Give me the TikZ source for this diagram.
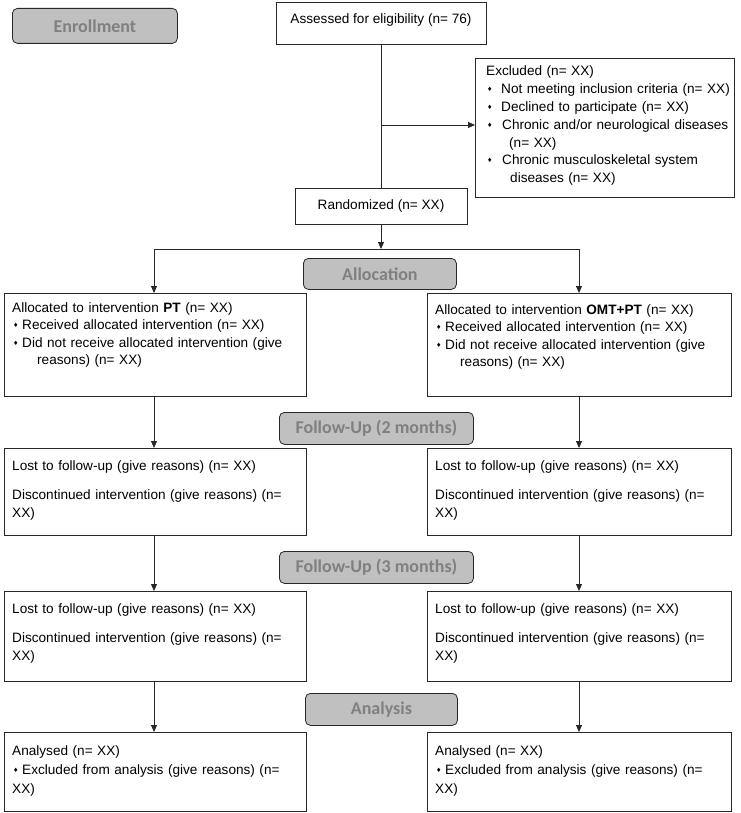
\documentclass[tikz,border=0pt]{standalone}
\usepackage{fontspec}
\setmainfont{Liberation Sans}
\newfontfamily\lblfont{Carlito}
\newfontfamily\symfont{DejaVu Sans}
\usetikzlibrary{arrows.meta}
\definecolor{lblfill}{RGB}{192,192,192}
\definecolor{lbltext}{RGB}{128,128,128}
\definecolor{edge}{RGB}{40,40,40}
\newcommand\bul[1]{\makebox[#1][l]{\hspace{1pt}\raisebox{2pt}{\symfont\fontsize{6}{6}\selectfont ♦}}}
\begin{document}
\begin{tikzpicture}[x=1pt,y=-1pt,
 box/.style={draw=edge, line width=0.8pt, inner sep=0pt, anchor=north west},
 cbox/.style={draw=edge, line width=0.8pt, inner sep=0pt, font=\fontsize{13.6}{16}\selectfont},
 lbl/.style={draw=edge, line width=0.8pt, fill=lblfill, rounded corners=5pt, inner sep=0pt, anchor=north west, font=\lblfont\bfseries\fontsize{18}{18}\selectfont, text=lbltext},
 txt/.style={inner sep=0pt, anchor=base west, align=left, text width=330pt, font=\fontsize{13.6}{17.5}\selectfont},
 arr/.style={draw=edge, line width=0.8pt, -{Triangle[length=7pt,width=6pt]}},
 ln/.style={draw=edge, line width=0.8pt}]
\useasboundingbox (0,0) rectangle (740,813);

% labels
\node[lbl, minimum width=165pt, minimum height=35pt] (enr) at (12,8) {Enrollment};
\node[lbl, minimum width=153pt, minimum height=31pt] (alloc) at (303,258) {Allocation};
\node[lbl, minimum width=194pt, minimum height=32pt] (fu2) at (279,412) {Follow-Up (2 months)};
\node[lbl, minimum width=194pt, minimum height=32pt] (fu3) at (279,551) {Follow-Up (3 months)};
\node[lbl, minimum width=152pt, minimum height=32pt] (ana) at (305,693) {Analysis};

% top boxes
\node[cbox, minimum width=210pt, minimum height=42pt, text height=10pt, text depth=9pt] (assess) at (381,23) {Assessed for eligibility (n= 76)};
\node[cbox, minimum width=172pt, minimum height=36pt] (rand) at (381,206) {Randomized (n= XX)};
\node[box, minimum width=259pt, minimum height=139pt] (excl) at (475,58) {};
\node[txt, font=\fontsize{13.6}{17.8}\selectfont] (exclt) at (486,76) {Excluded (n= XX)\\
\bul{15pt}Not meeting inclusion criteria (n= XX)\\
\bul{15pt}Declined to participate (n= XX)\\
\bul{16pt}Chronic and/or neurological diseases\\
\hspace*{23pt}(n= XX)\\
\bul{16pt}Chronic musculoskeletal system\\
\hspace*{24pt}diseases (n= XX)};

% allocation boxes
\node[box, minimum width=302pt, minimum height=103pt] (b1l) at (4,293) {};
\node[box, minimum width=304pt, minimum height=103pt] (b1r) at (427,293) {};
\node[txt] (t1l) at (12,312) {Allocated to intervention \textbf{PT} (n= XX)\\
\bul{10pt}Received allocated intervention (n= XX)\\
\bul{10pt}Did not receive allocated intervention (give\\
\hspace*{25pt}reasons) (n= XX)};
\node[txt] (t1r) at (435,314) {Allocated to intervention \textbf{OMT+PT} (n= XX)\\
\bul{10pt}Received allocated intervention (n= XX)\\
\bul{10pt}Did not receive allocated intervention (give\\
\hspace*{25pt}reasons) (n= XX)};

% follow-up 2 months
\node[box, minimum width=302pt, minimum height=87pt] (b2l) at (4,448) {};
\node[box, minimum width=304pt, minimum height=87pt] (b2r) at (427,448) {};
\node[txt] (t2l) at (12,470) {Lost to follow-up (give reasons) (n= XX)\\[12pt]
Discontinued intervention (give reasons) (n=\\
XX)};
\node[txt] (t2r) at (435,470) {Lost to follow-up (give reasons) (n= XX)\\[12pt]
Discontinued intervention (give reasons) (n=\\
XX)};

% follow-up 3 months
\node[box, minimum width=302pt, minimum height=90pt] (b3l) at (4,591) {};
\node[box, minimum width=304pt, minimum height=90pt] (b3r) at (427,591) {};
\node[txt] (t3l) at (12,613) {Lost to follow-up (give reasons) (n= XX)\\[12pt]
Discontinued intervention (give reasons) (n=\\
XX)};
\node[txt] (t3r) at (435,613) {Lost to follow-up (give reasons) (n= XX)\\[12pt]
Discontinued intervention (give reasons) (n=\\
XX)};

% analysis
\node[box, minimum width=302pt, minimum height=79pt] (b4l) at (4,732) {};
\node[box, minimum width=304pt, minimum height=79pt] (b4r) at (427,732) {};
\node[txt, font=\fontsize{13.6}{19}\selectfont] (t4l) at (12,755) {Analysed (n= XX)\\
\bul{10pt}Excluded from analysis (give reasons) (n=\\
XX)};
\node[txt, font=\fontsize{13.6}{19}\selectfont] (t4r) at (435,755) {Analysed (n= XX)\\
\bul{10pt}Excluded from analysis (give reasons) (n=\\
XX)};

% connectors
\draw[ln] (assess.south) -- (rand.north);
\coordinate (br) at (381,125);
\draw[arr] (br) -- (br -| excl.west);
\coordinate (split) at (381,249);
\draw[arr] (rand.south) -- (split);
\coordinate (sl) at (154,249);
\coordinate (sr) at (579,249);
\draw[ln] (sl) -- (sr);
\draw[arr] (sl) -- (sl |- b1l.north);
\draw[arr] (sr) -- (sr |- b1r.north);
\draw[arr] (sl |- b1l.south) -- (sl |- b2l.north);
\draw[arr] (sr |- b1r.south) -- (sr |- b2r.north);
\draw[arr] (sl |- b2l.south) -- (sl |- b3l.north);
\draw[arr] (sr |- b2r.south) -- (sr |- b3r.north);
\draw[arr] (sl |- b3l.south) -- (sl |- b4l.north);
\draw[arr] (sr |- b3r.south) -- (sr |- b4r.north);
\end{tikzpicture}
\end{document}
